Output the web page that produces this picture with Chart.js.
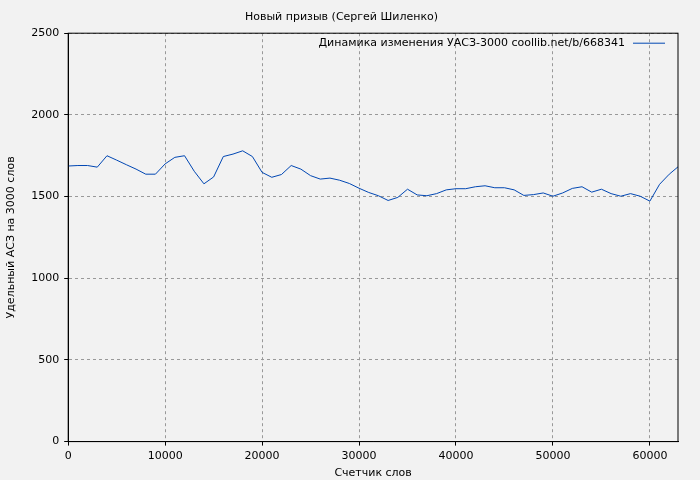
<!DOCTYPE html>
<html lang="ru">
<head>
<meta charset="UTF-8" />
<title>Новый призыв</title>
<script src="https://cdn.jsdelivr.net/npm/chart.js@4.4.0/dist/chart.umd.min.js"></script>
<style>
  body { margin: 0; background: #f2f2f2; }
  .chart-container { width: 700px; height: 480px; }
</style>
</head>
<body>
<div class="chart-container"><canvas id="myChart"></canvas></div>
<script>
const words = [0, 1000, 2000, 3000, 4000, 5000, 6000, 7000, 8000, 9000, 10000, 11000, 12000, 13000, 14000, 15000, 16000, 17000, 18000, 19000, 20000, 21000, 22000, 23000, 24000, 25000, 26000, 27000, 28000, 29000, 30000, 31000, 32000, 33000, 34000, 35000, 36000, 37000, 38000, 39000, 40000, 41000, 42000, 43000, 44000, 45000, 46000, 47000, 48000, 49000, 50000, 51000, 52000, 53000, 54000, 55000, 56000, 57000, 58000, 59000, 60000, 61000, 62000, 62900];
const uasz = [1687, 1690, 1690, 1680, 1750, 1723, 1695, 1668, 1637, 1637, 1700, 1740, 1750, 1655, 1578, 1620, 1745, 1760, 1780, 1745, 1648, 1618, 1635, 1690, 1668, 1628, 1607, 1613, 1600, 1580, 1551, 1525, 1505, 1476, 1495, 1545, 1510, 1505, 1518, 1541, 1548, 1548, 1560, 1566, 1554, 1554, 1541, 1507, 1512, 1522, 1502, 1522, 1550, 1560, 1527, 1545, 1518, 1502, 1518, 1502, 1472, 1575, 1637, 1682];
const xTicks = [0, 10000, 20000, 30000, 40000, 50000, 60000];
const yTicks = [0, 500, 1000, 1500, 2000, 2500];
const seriesLabel = "Динамика изменения УАСЗ-3000 coollib.net/b/668341";
const chartTitle = "Новый призыв (Сергей Шиленко)";

const font = { family: "DejaVu Sans", size: 11 };

// legend drawn inside the plot, top right
const insideLegend = {
  id: "insideLegend",
  afterDraw(chart) {
    const c = chart.ctx, a = chart.chartArea;
    c.save();
    c.font = "11px 'DejaVu Sans'";
    c.fillStyle = "#000";
    c.textAlign = "right";
    c.textBaseline = "middle";
    const y = a.top + 10;
    c.fillText(seriesLabel, a.right - 53, y);
    c.strokeStyle = "#0047b3";
    c.lineWidth = 1;
    c.beginPath();
    c.moveTo(a.right - 45, y);
    c.lineTo(a.right - 13, y);
    c.stroke();
    // frame
    c.strokeStyle = "#000";
    c.strokeRect(a.left, a.top, a.right - a.left, a.bottom - a.top);
    c.restore();
  }
};

const bg = {
  id: "bg",
  beforeDraw(chart) {
    const c = chart.ctx;
    c.save();
    c.fillStyle = "#f2f2f2";
    c.fillRect(0, 0, chart.width, chart.height);
    c.restore();
  }
};

const ctx = document.getElementById("myChart").getContext("2d");
new Chart(ctx, {
  type: "line",
  data: {
    datasets: [{
      label: seriesLabel,
      data: words.map((w, i) => ({ x: w, y: uasz[i] })),
      borderColor: "#0047b3",
      borderWidth: 1,
      pointRadius: 0,
      tension: 0,
    }],
  },
  options: {
    responsive: true,
    maintainAspectRatio: false,
    animation: false,
    layout: { padding: { left: 5, right: 22, top: 4, bottom: 0 } },
    scales: {
      x: {
        type: "linear",
        min: 0,
        max: 62900,
        afterBuildTicks: (s) => { s.ticks = xTicks.map((v) => ({ value: v })); },
        ticks: { color: "#000", font, maxRotation: 0, padding: 4, callback: (v) => String(v) },
        grid: { color: "#999", tickColor: "#000", tickLength: 4 },
        border: { color: "#000", dash: [3, 3] },
        title: { display: true, text: "Счетчик слов", color: "#000", font, padding: { top: 0, bottom: 0 } },
      },
      y: {
        min: 0,
        max: 2500,
        afterBuildTicks: (s) => { s.ticks = yTicks.map((v) => ({ value: v })); },
        ticks: { color: "#000", font, padding: 5, callback: (v) => String(v) },
        grid: { color: "#999", tickColor: "#000", tickLength: 4 },
        border: { color: "#000", dash: [3, 3] },
        title: { display: true, text: "Удельный АСЗ на 3000 слов", color: "#000", font, padding: { top: 0, bottom: 8 } },
      },
    },
    plugins: {
      legend: { display: false },
      tooltip: { enabled: false },
      title: { display: true, text: chartTitle, color: "#000", font: { ...font, weight: "normal" }, padding: { top: 7, bottom: 9 } },
    },
  },
  plugins: [bg, insideLegend],
});
</script>
</body>
</html>
